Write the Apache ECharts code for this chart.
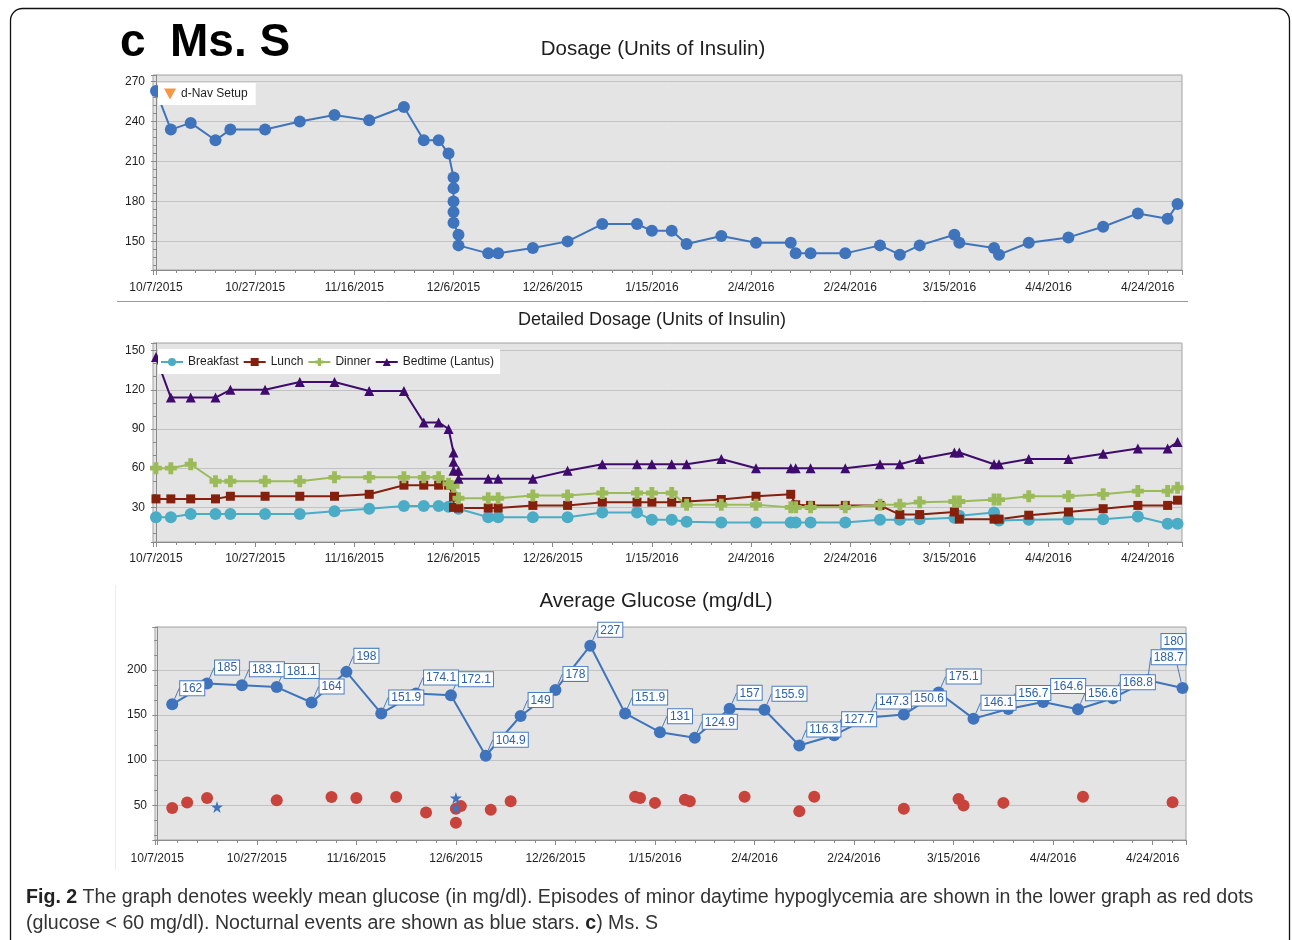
<!DOCTYPE html>
<html><head><meta charset="utf-8">
<script src="https://cdn.jsdelivr.net/npm/echarts@6/dist/echarts.min.js"></script>
<style>html,body{margin:0;padding:0;background:#fff}#c{width:1292px;height:940px}</style>
</head><body><div id="c"></div>
<script>
// ---------- DATA ----------
const doseDates = ['2015-10-07','2015-10-10','2015-10-14','2015-10-19','2015-10-22','2015-10-29','2015-11-05','2015-11-12','2015-11-19','2015-11-26','2015-11-30','2015-12-03','2015-12-05','2015-12-06','2015-12-06','2015-12-06','2015-12-06','2015-12-06','2015-12-07','2015-12-07','2015-12-13','2015-12-15','2015-12-22','2015-12-29','2016-01-05','2016-01-12','2016-01-15','2016-01-19','2016-01-22','2016-01-29','2016-02-05','2016-02-12','2016-02-13','2016-02-16','2016-02-23','2016-03-01','2016-03-05','2016-03-09','2016-03-16','2016-03-17','2016-03-24','2016-03-25','2016-03-31','2016-04-08','2016-04-15','2016-04-22','2016-04-28','2016-04-30'];
const doseValues = [263,234,239,226,234,234,240,245,241,251,226,226,216,198,190,180,172,164,155,147,141,141,145,150,163,163,158,158,148,154,149,149,141,141,141,147,140,147,155,149,145,140,149,153,161,171,167,178];

const bedtimeDates = ['2015-10-07','2015-10-10','2015-10-14','2015-10-19','2015-10-22','2015-10-29','2015-11-05','2015-11-12','2015-11-19','2015-11-26','2015-11-30','2015-12-03','2015-12-05','2015-12-06','2015-12-06','2015-12-06','2015-12-07','2015-12-07','2015-12-13','2015-12-15','2015-12-22','2015-12-29','2016-01-05','2016-01-12','2016-01-15','2016-01-19','2016-01-22','2016-01-29','2016-02-05','2016-02-12','2016-02-13','2016-02-16','2016-02-23','2016-03-01','2016-03-05','2016-03-09','2016-03-16','2016-03-17','2016-03-24','2016-03-25','2016-03-31','2016-04-08','2016-04-15','2016-04-22','2016-04-28','2016-04-30'];
const bedtimeValues = [145,114,114,114,120,120,126,126,119,119,95,95,90,72,65,58,58,52,52,52,52,58,63,63,63,63,63,67,60,60,60,60,60,63,63,67,72,72,63,63,67,67,71,75,75,80];

const dinnerDates = ['2015-10-07','2015-10-10','2015-10-14','2015-10-19','2015-10-22','2015-10-29','2015-11-05','2015-11-12','2015-11-19','2015-11-26','2015-11-30','2015-12-03','2015-12-05','2015-12-06','2015-12-07','2015-12-13','2015-12-15','2015-12-22','2015-12-29','2016-01-05','2016-01-12','2016-01-15','2016-01-19','2016-01-22','2016-01-29','2016-02-05','2016-02-12','2016-02-13','2016-02-16','2016-02-23','2016-03-01','2016-03-05','2016-03-09','2016-03-16','2016-03-17','2016-03-24','2016-03-25','2016-03-31','2016-04-08','2016-04-15','2016-04-22','2016-04-28','2016-04-30'];
const dinnerValues = [60,60,63,50,50,50,50,53,53,53,53,53,48,46,37,37,37,39,39,41,41,41,41,32,32,32,30,30,30,30,32,32,34,34.5,34.5,36,36,38.5,38.5,40,42.5,42.5,45];

const lunchDates = ['2015-10-07','2015-10-10','2015-10-14','2015-10-19','2015-10-22','2015-10-29','2015-11-05','2015-11-12','2015-11-19','2015-11-26','2015-11-30','2015-12-03','2015-12-05','2015-12-06','2015-12-06','2015-12-07','2015-12-13','2015-12-15','2015-12-22','2015-12-29','2016-01-05','2016-01-12','2016-01-15','2016-01-19','2016-01-22','2016-01-29','2016-02-05','2016-02-12','2016-02-13','2016-02-16','2016-02-23','2016-03-01','2016-03-05','2016-03-09','2016-03-16','2016-03-17','2016-03-24','2016-03-25','2016-03-31','2016-04-08','2016-04-15','2016-04-22','2016-04-28','2016-04-30'];
const lunchValues = [36.5,36.5,36.5,36.5,38.5,38.5,38.5,38.5,40,47,47,47,47,38,30,29.5,29.5,29.5,31.5,31.5,34,34,34,34,34.5,36,38.5,40,32,31.5,31.5,31.5,24.5,24.5,26.5,21,21,21,24,26.5,29,31.5,31.5,35.5];

const breakfastDates = ['2015-10-07','2015-10-10','2015-10-14','2015-10-19','2015-10-22','2015-10-29','2015-11-05','2015-11-12','2015-11-19','2015-11-26','2015-11-30','2015-12-03','2015-12-05','2015-12-07','2015-12-13','2015-12-15','2015-12-22','2015-12-29','2016-01-05','2016-01-12','2016-01-15','2016-01-19','2016-01-22','2016-01-29','2016-02-05','2016-02-12','2016-02-13','2016-02-16','2016-02-23','2016-03-01','2016-03-05','2016-03-09','2016-03-16','2016-03-17','2016-03-24','2016-03-25','2016-03-31','2016-04-08','2016-04-15','2016-04-22','2016-04-28','2016-04-30'];
const breakfastValues = [22.5,22.5,25,25,25,25,25,27,29,31,31,31,30.5,29,22.5,22.5,22.5,22.5,26,26,20.5,20.5,19,18.5,18.5,18.5,18.5,18.5,18.5,20.5,20.5,21,22,23.5,26,20,20.5,21,21,23,17.5,17.5];

const glucoseDates = ['2015-10-10','2015-10-17','2015-10-24','2015-10-31','2015-11-07','2015-11-14','2015-11-21','2015-11-28','2015-12-05','2015-12-12','2015-12-19','2015-12-26','2016-01-02','2016-01-09','2016-01-16','2016-01-23','2016-01-30','2016-02-06','2016-02-13','2016-02-20','2016-02-27','2016-03-05','2016-03-12','2016-03-19','2016-03-26','2016-04-02','2016-04-09','2016-04-16','2016-04-23','2016-04-30'];
const glucoseValues = [162,185,183.1,181.1,164,198,151.9,174.1,172.1,104.9,149,178,227,151.9,131,124.9,157,155.9,116.3,127.7,147.3,150.6,175.1,146.1,156.7,164.6,156.6,168.8,188.7,180];

const hypoDates = ['2015-10-10','2015-10-13','2015-10-17','2015-10-31','2015-11-11','2015-11-16','2015-11-24','2015-11-30','2015-12-06','2015-12-07','2015-12-06','2015-12-13','2015-12-17','2016-01-11','2016-01-12','2016-01-15','2016-01-21','2016-01-22','2016-02-02','2016-02-13','2016-02-16','2016-03-05','2016-03-16','2016-03-17','2016-03-25','2016-04-10','2016-04-28'];
const hypoValues = [47,53,58,55.6,59,58,59,42,46,49,30.5,45,54.5,59.5,58,52.6,56,54.5,59.3,43.4,59.3,46,57,49.6,52.6,59.3,53.3];

const nocturnalDates = ['2015-10-19','2015-12-06','2015-12-06'];
const nocturnalValues = [48,58,47];

const titles = ['Dosage (Units of Insulin)', 'Detailed Dosage (Units of Insulin)', 'Average Glucose (mg/dL)'];
const mealNames = ['Breakfast','Lunch','Dinner','Bedtime (Lantus)'];

// ---------- HELPERS ----------
const ORIGIN = Date.UTC(2015, 9, 7);
function dayOf(s){ const p = s.split('-').map(Number); return (Date.UTC(p[0], p[1]-1, p[2]) - ORIGIN) / 864e5; }
function pairs(d, v){ return d.map((s, i) => [dayOf(s), v[i]]); }
function isMult(v, s){ return Math.abs(v / s - Math.round(v / s)) < 1e-6; }
function fmtDay(v){
  if (!isMult(v, 20)) return '';
  const d = new Date(ORIGIN + Math.round(v) * 864e5);
  return (d.getUTCMonth()+1) + '/' + d.getUTCDate() + '/' + d.getUTCFullYear();
}
const AX = '#8a8a8a';
const FONT = '"Liberation Sans", Arial, sans-serif';
function xAxisCfg(g, min, max, margin){
  return { type:'value', gridIndex:g, min:min, max:max, splitNumber:10,
    axisLine:{show:true, lineStyle:{color:AX}},
    axisTick:{show:true, length:5, lineStyle:{color:AX}},
    minorTick:{show:true, splitNumber:5, length:3, lineStyle:{color:AX}},
    splitLine:{show:false},
    axisLabel:{formatter:fmtDay, fontSize:12, color:'#1e1e1e', margin:margin} };
}
function yAxisCfg(g, min, max, step, minor){
  return { type:'value', gridIndex:g, min:min, max:max, splitNumber:5,
    axisLine:{show:true, lineStyle:{color:AX}},
    axisTick:{show:true, length:5, lineStyle:{color:AX}},
    minorTick:{show:true, splitNumber:minor, length:3, lineStyle:{color:AX}},
    splitLine:{show:true, lineStyle:{color:'#c2c2c2', width:1}},
    axisLabel:{formatter: v => isMult(v, step) ? String(Math.round(v)) : '', fontSize:12, color:'#1e1e1e', margin:8} };
}
const gridStyle = {show:true, backgroundColor:'#e4e4e4', borderColor:'#a3a3a3', borderWidth:1};

const BLUE = '#3f74bd';
const plusPath = 'path://M3,0H7V3H10V7H7V10H3V7H0V3H3Z';
const starPath = 'path://M5,0L6.18,3.62L10,3.62L6.91,5.86L8.09,9.51L5,7.27L1.91,9.51L3.09,5.86L0,3.62L3.82,3.62Z';
const downTri = 'path://M0,0L10,0L5,9Z';

function mealSeries(name, d, v, color, symbol, size){
  return { type:'line', name:name, xAxisIndex:1, yAxisIndex:1, data:pairs(d, v),
    symbol:symbol, symbolSize:size, showAllSymbol:true,
    itemStyle:{color:color, opacity:1}, lineStyle:{color:color, width:2}, z:3 };
}

const chart = echarts.init(document.getElementById('c'), null, {renderer:'canvas'});
const nG = glucoseValues.length;
chart.setOption({
  animation:false,
  textStyle:{fontFamily:FONT},
  grid:[
    Object.assign({left:153, top:75, width:1029, height:195}, gridStyle),
    Object.assign({left:153, top:343, width:1029, height:199}, gridStyle),
    Object.assign({left:155, top:627, width:1031, height:213}, gridStyle)
  ],
  xAxis:[ xAxisCfg(0, -0.6, 206.9, 12), xAxisCfg(1, -0.6, 206.9, 11), xAxisCfg(2, -0.46, 206.7, 13) ],
  yAxis:[ yAxisCfg(0, 128.5, 275, 30, 5), yAxisCfg(1, 3.5, 155.8, 30, 3), yAxisCfg(2, 11.4, 247.8, 50, 3) ],
  legend:[
    { data:[{name:'d-Nav Setup', icon:downTri}], left:158, top:83, orient:'horizontal',
      backgroundColor:'#fff', padding:[5,8,5,6], itemWidth:12, itemHeight:11, selectedMode:false,
      textStyle:{fontSize:12, color:'#1e1e1e'} },
    { data:mealNames, left:158, top:349, backgroundColor:'#fff', padding:[7,6,6,2],
      itemWidth:22, itemHeight:10, itemGap:4, selectedMode:false,
      textStyle:{fontSize:12, color:'#1e1e1e'} }
  ],
  series:[
    { type:'line', name:'Dosage', xAxisIndex:0, yAxisIndex:0, data:pairs(doseDates, doseValues),
      symbol:'circle', symbolSize:12, showAllSymbol:true, itemStyle:{color:BLUE}, lineStyle:{color:BLUE, width:2} },
    { type:'scatter', name:'d-Nav Setup', xAxisIndex:0, yAxisIndex:0, data:[], symbol:downTri, itemStyle:{color:'#f79646', opacity:1} },
    mealSeries('Breakfast', breakfastDates, breakfastValues, '#4bacc6', 'circle', 12),
    mealSeries('Lunch', lunchDates, lunchValues, '#85200c', 'rect', 9),
    mealSeries('Dinner', dinnerDates, dinnerValues, '#9bbb59', plusPath, 12),
    mealSeries('Bedtime (Lantus)', bedtimeDates, bedtimeValues, '#3f0c6e', 'triangle', 10),
    { type:'scatter', name:'Hypo', xAxisIndex:2, yAxisIndex:2, data:pairs(hypoDates, hypoValues),
      symbol:'circle', symbolSize:12, itemStyle:{color:'#c8433c', opacity:1}, z:2 },
    { type:'scatter', name:'Nocturnal', xAxisIndex:2, yAxisIndex:2, data:pairs(nocturnalDates, nocturnalValues),
      symbol:starPath, symbolSize:12, itemStyle:{color:BLUE, opacity:1}, z:3 },
    { type:'line', name:'Glucose', xAxisIndex:2, yAxisIndex:2, data:pairs(glucoseDates, glucoseValues),
      symbol:'circle', symbolSize:12, showAllSymbol:true, itemStyle:{color:BLUE}, lineStyle:{color:BLUE, width:2}, z:4,
      label:{show:true, formatter: p => String(p.value[1]), fontSize:12, color:'#2f62aa',
        backgroundColor:'#fff', borderColor:'#4a7cc0', borderWidth:1, padding:[1,2,0,2], lineHeight:13},
      labelLine:{show:true, lineStyle:{color:'#4a7cc0', width:1}},
      labelLayout: function(p){
        const cx = p.rect.x + p.rect.width/2, cy = p.rect.y + p.rect.height/2;
        if (p.dataIndex === nG-1) return {x:cx+3, y:cy-40, align:'right', verticalAlign:'bottom'};
        if (p.dataIndex === nG-2) return {x:cx+4, y:cy-16, align:'left', verticalAlign:'bottom'};
        return {x:cx+8, y:cy-9, align:'left', verticalAlign:'bottom'};
      } }
  ],
  graphic:[
    {type:'rect', shape:{x:10.5, y:8.5, width:1279, height:980, r:12}, style:{fill:'none', stroke:'#111', lineWidth:1.3}, silent:true},
    {type:'text', x:120, y:43, style:{text:'c', font:'bold 46px ' + FONT, fill:'#000', verticalAlign:'middle'}},
    {type:'text', x:170, y:43, style:{text:'Ms. S', font:'bold 46px ' + FONT, fill:'#000', verticalAlign:'middle'}},
    {type:'text', x:653, y:49, style:{text:titles[0], font:'20.5px ' + FONT, fill:'#1e1e1e', align:'center', verticalAlign:'middle'}},
    {type:'text', x:652, y:320, style:{text:titles[1], font:'18px ' + FONT, fill:'#1e1e1e', align:'center', verticalAlign:'middle'}},
    {type:'text', x:656, y:601, style:{text:titles[2], font:'20.5px ' + FONT, fill:'#1e1e1e', align:'center', verticalAlign:'middle'}},
    {type:'line', shape:{x1:117, y1:301.5, x2:1188, y2:301.5}, style:{stroke:'#9a9a9a', lineWidth:1}},
    {type:'line', shape:{x1:115.5, y1:585, x2:115.5, y2:870}, style:{stroke:'#ededed', lineWidth:1}},
    {type:'text', x:26, y:898, style:{text:'{b|Fig. 2} The graph denotes weekly mean glucose (in mg/dl). Episodes of minor daytime hypoglycemia are shown in the lower graph as red dots',
      font:'19.6px ' + FONT, fill:'#333', verticalAlign:'middle',
      rich:{b:{font:'bold 19.6px ' + FONT, fill:'#222'}}}},
    {type:'text', x:26, y:924, style:{text:'(glucose < 60 mg/dl). Nocturnal events are shown as blue stars. {b|c}) Ms. S',
      font:'19.6px ' + FONT, fill:'#333', verticalAlign:'middle',
      rich:{b:{font:'bold 19.6px ' + FONT, fill:'#222'}}}}
  ]
});
</script></body></html>
